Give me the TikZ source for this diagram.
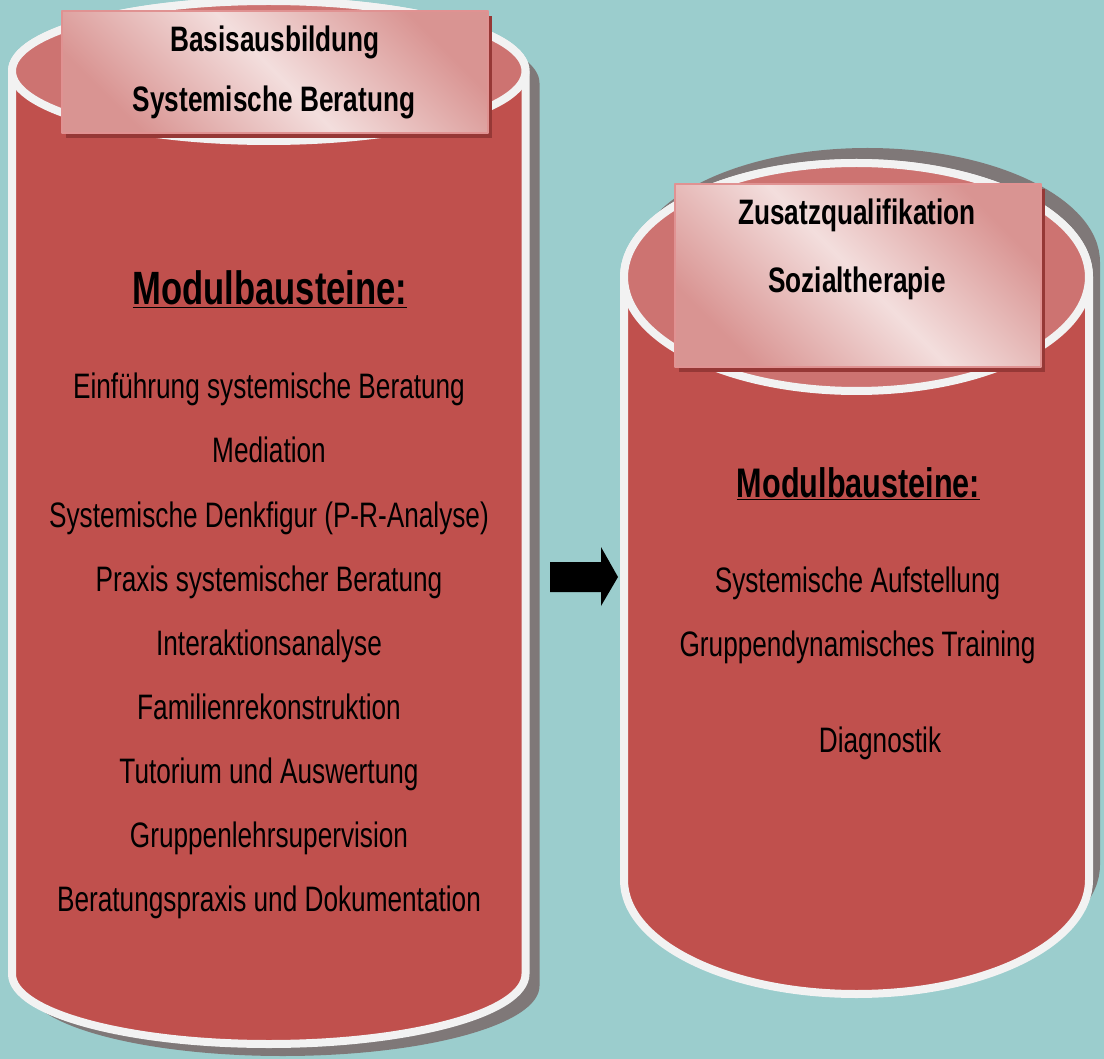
\documentclass[tikz,border=0pt]{standalone}
\usepackage{fontspec}
\setmainfont{Liberation Sans}
\usepackage{graphicx}
\usepackage{xcolor}
\usepackage{tikz}
\usetikzlibrary{shapes,calc,positioning,shadows}

\definecolor{hintergrund}{RGB}{155,205,205}
\definecolor{rotkoerper}{RGB}{192,80,77}
\definecolor{rotdeckel}{RGB}{205,115,113}
\definecolor{rand}{RGB}{242,242,242}
\definecolor{schatten}{RGB}{127,120,120}
\definecolor{kopfhell}{RGB}{243,222,221}
\definecolor{kopfdunkel}{RGB}{217,148,146}
\definecolor{kopfrand}{RGB}{224,146,146}
\definecolor{kopfschatten}{RGB}{150,56,54}

\pgfdeclarehorizontalshading{kopfverlauf}{100bp}{color(0bp)=(kopfdunkel); color(25bp)=(kopfdunkel); color(50bp)=(kopfhell); color(75bp)=(kopfdunkel); color(100bp)=(kopfdunkel)}

% text is a bit taller than wide
\newcommand{\hoch}[1]{\scalebox{1}[1.35]{#1}}

\begin{document}
\begin{tikzpicture}[x=1pt,y=-1pt,line join=round]
	\tikzstyle{koerper} = [fill=rotkoerper,draw=rand,line width=8pt]
	\tikzstyle{deckel} = [fill=rotdeckel,draw=rand,line width=8pt]
	\tikzstyle{kopf} = [draw=kopfrand,line width=1.5pt,shading=kopfverlauf,shading angle=45,drop shadow={shadow xshift=4pt,shadow yshift=-5pt,fill=kopfschatten,opacity=1}]
	\tikzstyle{kopftext} = [font=\fontsize{26.2}{30}\selectfont\bfseries,anchor=base,inner sep=0pt]
	\tikzstyle{titel} = [font=\fontsize{34.6}{40}\selectfont\bfseries,anchor=base,inner sep=0pt]
	\tikzstyle{eintrag} = [font=\fontsize{26.2}{30}\selectfont,anchor=base,inner sep=0pt]

	\useasboundingbox[fill=hintergrund] (0,0) rectangle (1104,1059);

	% Basisausbildung: shadow, body, lid
	\fill[schatten,shift={(14,12)}] (12,71) -- (12,974) arc[start angle=180,end angle=0,x radius=256.75,y radius=70] -- (525.5,71) arc[start angle=0,end angle=-180,x radius=256.75,y radius=70] -- cycle;
	\draw[koerper] (12,71) -- (12,974) arc[start angle=180,end angle=0,x radius=256.75,y radius=70] -- (525.5,71) arc[start angle=0,end angle=-180,x radius=256.75,y radius=70] -- cycle;
	\draw[deckel] (268.75,71) ellipse[x radius=256.75,y radius=70];

	% Zusatzqualifikation: shadow, body, lid
	\fill[schatten,shift={(11,-15)}] (624,277) -- (624,880) arc[start angle=180,end angle=0,x radius=232.5,y radius=114] -- (1089,277) arc[start angle=0,end angle=-180,x radius=232.5,y radius=114] -- cycle;
	\draw[koerper] (624,277) -- (624,880) arc[start angle=180,end angle=0,x radius=232.5,y radius=114] -- (1089,277) arc[start angle=0,end angle=-180,x radius=232.5,y radius=114] -- cycle;
	\draw[deckel] (856.5,277) ellipse[x radius=232.5,y radius=114];

	\node[kopf,minimum width=426pt,minimum height=122pt] (kopfL) at (275,72) {};
	\node[kopf,minimum width=366pt,minimum height=183pt] (kopfR) at (858,275.5) {};

	\node[kopftext] (basis) at (275,52) {\hoch{Basisausbildung}};
	\node[kopftext] (beratung) at (274,112) {\hoch{Systemische Beratung}};
	\node[kopftext] (zusatz) at (857,225) {\hoch{Zusatzqualifikation}};
	\node[kopftext] (sozial) at (857,293) {\hoch{Sozialtherapie}};

	% module lists
	\node[titel] (modulL) at (270,305) {\hoch{\underline{Modulbausteine:}}};
	\node[eintrag] (m1) at (269,399) {\hoch{Einführung systemische Beratung}};
	\node[eintrag] (m2) at (269,463) {\hoch{Mediation}};
	\node[eintrag] (m3) at (269,527) {\hoch{Systemische Denkfigur (P-R-Analyse)}};
	\node[eintrag] (m4) at (269,591) {\hoch{Praxis systemischer Beratung}};
	\node[eintrag] (m5) at (269,655) {\hoch{Interaktionsanalyse}};
	\node[eintrag] (m6) at (269,719) {\hoch{Familienrekonstruktion}};
	\node[eintrag] (m7) at (269,783) {\hoch{Tutorium und Auswertung}};
	\node[eintrag] (m8) at (269,847) {\hoch{Gruppenlehrsupervision}};
	\node[eintrag] (m9) at (269,911) {\hoch{Beratungspraxis und Dokumentation}};

	\node[titel,font=\fontsize{30.6}{36}\selectfont\bfseries] (modulR) at (858.5,497) {\hoch{\underline{Modulbausteine:}}};
	\node[eintrag] (s1) at (857.5,592) {\hoch{Systemische Aufstellung}};
	\node[eintrag] (s2) at (857.5,656) {\hoch{Gruppendynamisches Training}};
	\node[eintrag] (s3) at (880,752) {\hoch{Diagnostik}};

	% block arrow between the two
	\fill[black] (550,562) -- (601,562) -- (601,547) -- (618,577) -- (601,606) -- (601,592) -- (550,592) -- cycle;
\end{tikzpicture}
\end{document}
